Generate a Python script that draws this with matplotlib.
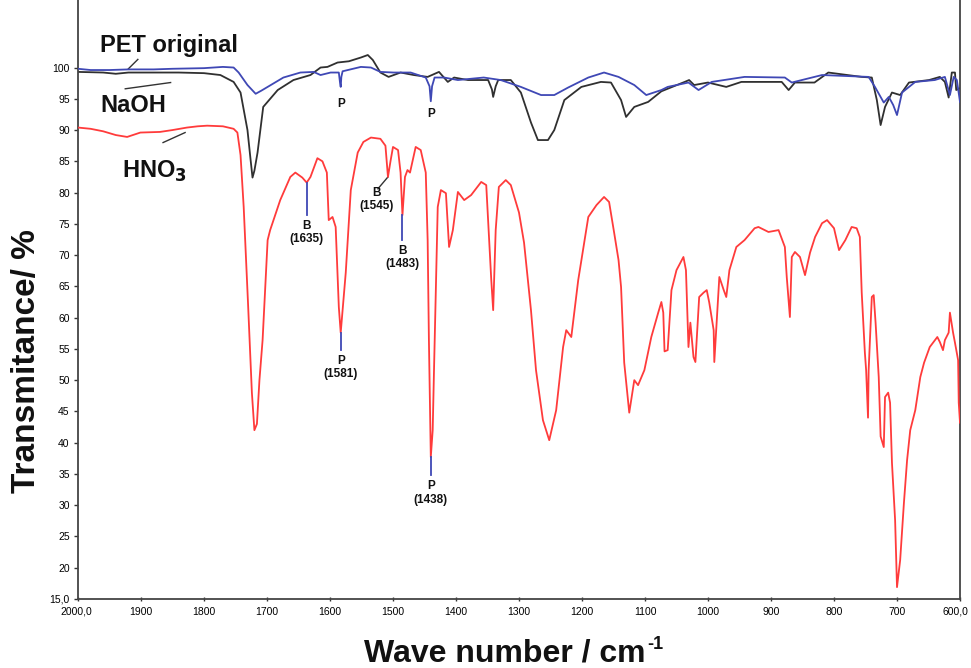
import matplotlib
matplotlib.use("Agg")
import matplotlib.pyplot as plt
import matplotlib.transforms as mtransforms

# ---------------- data ----------------
hno3_wn = [2000, 1980, 1960, 1940, 1922, 1910, 1901, 1870, 1850, 1827, 1810, 1795, 1770, 1753, 1747, 1742,
           1737, 1730, 1724, 1720, 1716, 1712, 1707, 1699, 1695, 1679, 1663, 1655, 1644, 1637, 1631, 1620,
           1612, 1605, 1602, 1596, 1591, 1586, 1583, 1575, 1567, 1556, 1547, 1535, 1520, 1512, 1508, 1504,
           1500, 1492, 1488, 1485, 1481, 1477, 1473, 1464, 1456, 1448, 1445, 1443, 1440, 1437, 1435, 1429,
           1424, 1416, 1411, 1405, 1397, 1387, 1376, 1360, 1352, 1348, 1344, 1341, 1337, 1332, 1321, 1313,
           1300, 1292, 1281, 1273, 1262, 1252, 1241, 1230, 1225, 1217, 1206, 1190, 1177, 1165, 1157, 1149,
           1142, 1138, 1133, 1125, 1117, 1111, 1101, 1090, 1079, 1074, 1071, 1069, 1064, 1058, 1050, 1039,
           1035, 1031, 1028, 1023, 1020, 1014, 1007, 1002, 998, 991, 990, 987, 982, 975, 971, 966,
           955, 942, 926, 920, 904, 888, 878, 875, 870, 867, 862, 854, 846, 838, 830, 819,
           811, 800, 792, 782, 772, 764, 759, 756, 751, 749, 746, 745, 740, 737, 734, 729,
           726, 721, 719, 714, 711, 708, 703, 700, 695, 689, 684, 679, 671, 663, 657, 648,
           636, 632, 627, 624, 618, 616, 611, 608, 603, 602, 600]
hno3_t = [90.4, 90.2, 89.8, 89.2, 88.9, 89.3, 89.6, 89.7, 90.0, 90.4, 90.6, 90.7, 90.6, 90.2, 89.6, 86.0,
          77.7, 62.0, 48.0, 42.0, 43.0, 50.0, 56.4, 72.4, 74.0, 78.8, 82.5, 83.2, 82.4, 81.6, 82.5, 85.5,
          85.0, 83.2, 75.6, 76.1, 74.5, 61.7, 57.6, 67.2, 80.4, 86.4, 88.1, 88.8, 88.6, 87.5, 82.5, 85.0,
          87.3, 86.8, 83.2, 76.4, 82.5, 83.6, 83.2, 87.3, 86.8, 83.2, 72.4, 56.4, 37.7, 42.0, 51.2, 77.7,
          80.4, 79.9, 71.3, 74.0, 80.1, 78.8, 79.6, 81.7, 81.2, 73.6, 66.0, 61.2, 74.0, 80.9, 82.0, 81.2,
          76.8, 72.0, 61.2, 51.6, 43.6, 40.4, 45.2, 55.3, 58.0, 56.9, 66.0, 76.1, 78.0, 79.3, 78.5, 73.6,
          69.2, 64.9, 52.8, 44.8, 50.0, 49.2, 51.6, 56.9, 60.8, 62.5, 60.8, 54.6, 54.8, 64.4, 67.6, 69.7,
          67.6, 55.3, 59.2, 53.7, 52.9, 63.3, 64.0, 64.4, 62.4, 58.0, 52.9, 58.0, 66.5, 64.4, 63.3, 67.6,
          71.3, 72.4, 74.3, 74.5, 73.7, 74.0, 71.3, 66.5, 60.1, 69.7, 70.5, 69.7, 66.8, 70.4, 72.9, 75.1,
          75.6, 74.3, 70.8, 72.4, 74.5, 74.3, 72.9, 64.0, 54.4, 51.6, 44.0, 51.6, 63.3, 63.6, 59.2, 50.5,
          41.0, 39.3, 47.3, 48.0, 46.4, 36.8, 27.6, 16.9, 21.2, 30.4, 37.2, 42.0, 45.2, 50.5, 52.8, 55.3,
          56.9, 56.1, 54.8, 56.4, 57.6, 60.8, 57.6, 56.0, 53.2, 46.4, 43.2]

pet_wn = [2000, 1980, 1950, 1920, 1880, 1850, 1800, 1770, 1753, 1745, 1731, 1718, 1709, 1699, 1674, 1647,
          1626, 1615, 1599, 1586, 1584, 1583, 1582, 1580, 1551, 1535, 1520, 1499, 1472, 1448, 1442, 1440,
          1438, 1434, 1419, 1397, 1356, 1329, 1297, 1265, 1244, 1222, 1190, 1165, 1142, 1117, 1098, 1074,
          1064, 1031, 1015, 994, 942, 878, 867, 851, 819, 745, 735, 721, 713, 706, 700, 692,
          671, 640, 624, 616, 610, 605, 600]
pet_t = [99.8, 99.6, 99.6, 99.7, 99.7, 99.8, 99.9, 100.1, 100.0, 99.2, 97.2, 95.8, 96.3, 96.9, 98.4, 99.2,
         99.3, 98.8, 99.2, 99.2, 97.5, 96.9, 98.5, 99.4, 100.1, 100.0, 99.3, 99.2, 99.2, 98.4, 97.0, 94.6,
         97.0, 98.4, 98.4, 98.0, 98.4, 98.0, 96.9, 95.6, 95.6, 96.8, 98.4, 99.2, 98.5, 97.2, 95.6, 96.4,
         96.9, 97.6, 96.4, 97.7, 98.5, 98.4, 97.6, 98.0, 98.8, 98.5, 96.9, 94.4, 95.3, 94.0, 92.4, 96.0,
         97.7, 98.0, 98.5, 95.6, 98.5, 98.0, 94.5]

naoh_wn = [2000, 1960, 1940, 1920, 1880, 1840, 1800, 1774, 1753, 1742, 1731, 1726, 1723, 1720, 1715, 1706,
           1683, 1658, 1631, 1615, 1604, 1588, 1570, 1551, 1540, 1532, 1520, 1507, 1488, 1467, 1445, 1427,
           1413, 1403, 1381, 1349, 1343, 1341, 1337, 1333, 1313, 1297, 1281, 1270, 1254, 1244, 1228, 1201,
           1170, 1154, 1138, 1130, 1117, 1095, 1074, 1037, 1030, 1022, 1000, 971, 947, 883, 872, 862,
           831, 809, 756, 740, 732, 726, 719, 708, 695, 681, 649, 632, 624, 618, 613, 608, 606, 600]
naoh_t = [99.3, 99.2, 99.0, 99.2, 99.2, 99.2, 99.1, 98.8, 97.7, 96.0, 90.0, 85.2, 82.4, 83.5, 86.4, 93.7,
          96.4, 98.0, 98.8, 100.0, 100.1, 100.8, 101.0, 101.6, 102.0, 101.2, 99.2, 98.5, 99.2, 98.8, 98.5, 99.3,
          97.7, 98.4, 98.0, 98.0, 96.5, 95.3, 97.0, 98.0, 98.0, 96.0, 91.2, 88.4, 88.4, 90.0, 94.8, 96.9,
          97.7, 97.6, 94.8, 92.1, 93.7, 94.5, 96.2, 97.7, 98.0, 97.2, 97.6, 96.9, 97.7, 97.7, 96.4, 97.6,
          97.6, 99.2, 98.5, 98.4, 94.8, 90.8, 93.7, 96.0, 95.6, 97.6, 98.0, 98.5, 97.7, 95.2, 99.2, 99.2, 96.4, 96.7]

x_ticks = [2000, 1900, 1800, 1700, 1600, 1500, 1400, 1300, 1200, 1100, 1000, 900, 800, 700, 600]
x_ticklabels = ["2000,0", "1900", "1800", "1700", "1600", "1500", "1400", "1300", "1200", "1100",
                "1000", "900", "800", "700", "600,0"]
y_ticks = [15, 20, 25, 30, 35, 40, 45, 50, 55, 60, 65, 70, 75, 80, 85, 90, 95, 100]
y_ticklabels = ["15,0", "20", "25", "30", "35", "40", "45", "50", "55", "60", "65", "70", "75", "80",
                "85", "90", "95", "100"]

# peak markers on the HNO3 curve
mark_labels = ["B\n(1635)", "P\n(1581)", "B\n(1483)", "P\n(1438)"]
mark_wn = [1637, 1583, 1485, 1440]
mark_top = [81.6, 57.6, 76.4, 37.7]
mark_bot = [76.4, 54.8, 72.4, 34.8]

RED = "#ff3b3b"
BLUE = "#3f48b5"
BLACK = "#303030"
SANS = ["Liberation Sans", "DejaVu Sans"]

W, H = 971, 668
fig = plt.figure(figsize=(W / 100, H / 100), dpi=100)
ax = fig.add_axes([78 / W, 1 - 599 / H, (960 - 78) / W, 599 / H])

ax.plot(hno3_wn, hno3_t, color=RED, lw=1.3, zorder=3)
ax.plot(naoh_wn, naoh_t, color=BLACK, lw=1.3, zorder=2)
ax.plot(pet_wn, pet_t, color=BLUE, lw=1.3, zorder=4)

ax.set_xlim(2000, 600)
ax.set_ylim(15, 110.8)

ax.set_xticks(x_ticks)
ax.set_xticklabels(x_ticklabels, fontsize=7.5, family=SANS)
ax.set_yticks(y_ticks)
ax.set_yticklabels(y_ticklabels, fontsize=7.5, family=SANS)
ax.tick_params(axis="x", direction="inout", length=3, width=1, pad=4, colors="#333333")
ax.tick_params(axis="y", direction="out", length=3, width=1, pad=3, colors="#333333")
for lbl in ax.get_xticklabels() + ax.get_yticklabels():
    lbl.set_color("black")
xl = ax.get_xticklabels()
xl[-1].set_transform(xl[-1].get_transform() + mtransforms.ScaledTranslation(-5 / 100, 0, fig.dpi_scale_trans))
xl[0].set_transform(xl[0].get_transform() + mtransforms.ScaledTranslation(-2 / 100, 0, fig.dpi_scale_trans))

ax.spines["top"].set_visible(False)
for s in ["left", "bottom", "right"]:
    ax.spines[s].set_color("#444444")
    ax.spines[s].set_linewidth(1.3)

# axis titles
xt = fig.text(505 / W, 1 - 653 / H, "Wave number / cm", ha="center", va="center",
              fontsize=23, fontweight="bold", family=SANS, color="#111111")
fig.canvas.draw()
bb = xt.get_window_extent()
fig.text((bb.x1 + 1) / W, (bb.y1 - 15) / H, "-1", ha="left", va="bottom",
         fontsize=13, fontweight="bold", family=SANS, color="#111111")
fig.text(27 / W, 1 - 361 / H, "Transmitance/ %", ha="center", va="center", rotation=90,
         fontsize=24, fontweight="bold", family=SANS, color="#111111")

# series labels
lab_font = dict(fontsize=17, fontweight="bold", family=SANS, color="#111111")
ax.text(1965, 103.6, "PET original", ha="left", va="center", **lab_font)
ax.plot([1920, 1905], [99.8, 101.3], color="#333333", lw=1.0)
ax.text(1965, 94.0, "NaOH", ha="left", va="center", **lab_font)
ax.plot([1925, 1853], [96.6, 97.6], color="#333333", lw=1.0)
ax.text(1930, 83.4, "HNO$_\\mathbf{3}$", ha="left", va="center", **lab_font)
ax.plot([1865, 1830], [88.0, 89.6], color="#333333", lw=1.0)

small = dict(fontsize=8.5, fontweight="bold", family=SANS,
             ha="center", va="top", linespacing=1.15, color="#111111")

for lab, w, t, b in zip(mark_labels, mark_wn, mark_top, mark_bot):
    ax.plot([w, w], [t, b], color=BLUE, lw=1.3, zorder=5)
    ax.text(w, b - 0.8, lab, **small)

ax.plot([1508, 1524], [82.5, 80.6], color="#333333", lw=1.0)
ax.text(1526, 80.9, "B\n(1545)", **small)

ax.text(1583, 95.2, "P", **small)
ax.text(1440, 93.6, "P", **small)

fig.savefig("out.png", dpi=100)
